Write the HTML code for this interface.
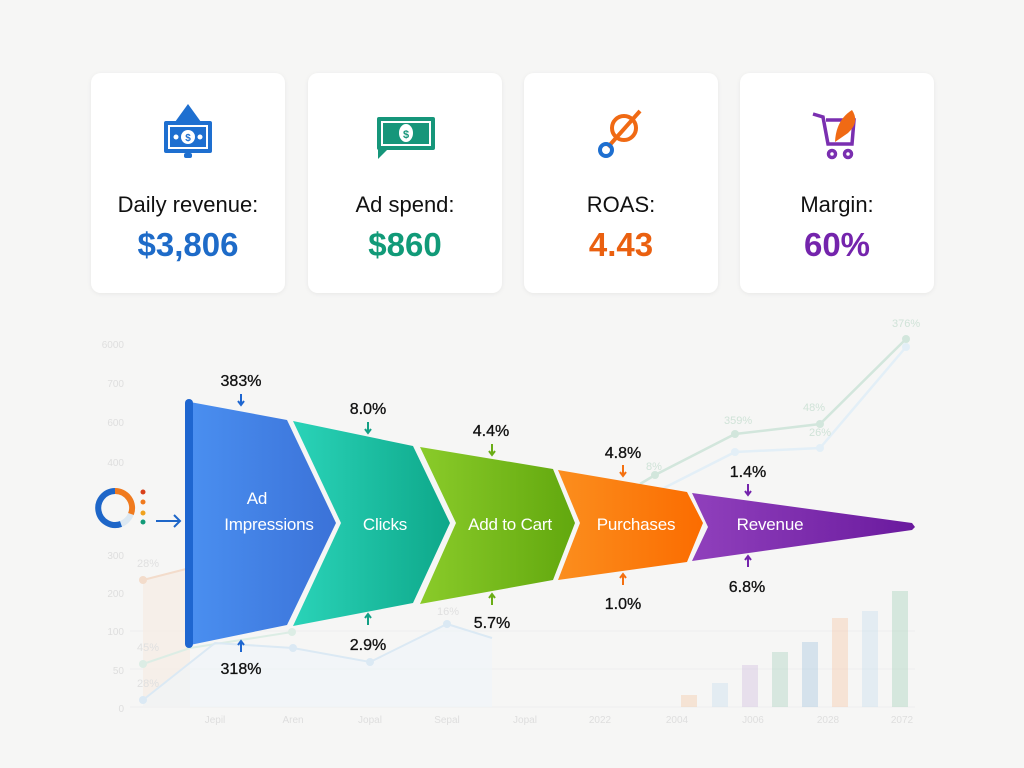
<!DOCTYPE html>
<html><head><meta charset="utf-8"><style>
html,body{margin:0;padding:0;background:#f6f6f5;}
svg{display:block;font-family:"Liberation Sans",sans-serif;}
</style></head><body>
<svg width="1024" height="768" viewBox="0 0 1024 768">
<defs>
<linearGradient id="gb" x1="0" x2="1"><stop offset="0" stop-color="#4a8ff0"/><stop offset="1" stop-color="#3b72d8"/></linearGradient>
<linearGradient id="gt" x1="0" x2="1"><stop offset="0" stop-color="#2ad3b8"/><stop offset="1" stop-color="#0ea88a"/></linearGradient>
<linearGradient id="gg" x1="0" x2="1"><stop offset="0" stop-color="#8acb2a"/><stop offset="1" stop-color="#62a80e"/></linearGradient>
<linearGradient id="go" x1="0" x2="1"><stop offset="0" stop-color="#fb8e1e"/><stop offset="1" stop-color="#fb6c00"/></linearGradient>
<linearGradient id="gp" x1="0" x2="1"><stop offset="0" stop-color="#9040bc"/><stop offset="1" stop-color="#6a1a9e"/></linearGradient>
<filter id="sh" x="-10%" y="-10%" width="120%" height="120%"><feDropShadow dx="0" dy="1" stdDeviation="2" flood-opacity="0.06"/></filter>
</defs>
<rect width="1024" height="768" fill="#f6f6f5"/>
<g font-size="10" fill="#dedede" text-anchor="end">
<text x="124" y="348">6000</text><text x="124" y="387">700</text><text x="124" y="426">600</text><text x="124" y="466">400</text>
<text x="124" y="559">300</text><text x="124" y="597">200</text><text x="124" y="635">100</text><text x="124" y="674">50</text><text x="124" y="712">0</text>
</g>
<g font-size="10" fill="#dedede" text-anchor="middle">
<text x="215" y="723">Jepil</text><text x="293" y="723">Aren</text><text x="370" y="723">Jopal</text><text x="447" y="723">Sepal</text><text x="525" y="723">Jopal</text>
<text x="600" y="723">2022</text><text x="677" y="723">2004</text><text x="753" y="723">J006</text><text x="828" y="723">2028</text><text x="902" y="723">2072</text>
</g>
<g stroke="#eeeeee" stroke-width="1"><line x1="130" y1="707" x2="915" y2="707"/><line x1="130" y1="669" x2="915" y2="669"/><line x1="130" y1="631" x2="915" y2="631"/></g>
<g opacity="0.4">
<rect x="681" y="695" width="16" height="12" fill="#f4c9a4"/>
<rect x="712" y="683" width="16" height="24" fill="#c9def0"/>
<rect x="742" y="665" width="16" height="42" fill="#d2bfe0"/>
<rect x="772" y="652" width="16" height="55" fill="#a9d3bf"/>
<rect x="802" y="642" width="16" height="65" fill="#a4c5e0"/>
<rect x="832" y="618" width="16" height="89" fill="#f6c8a6"/>
<rect x="862" y="611" width="16" height="96" fill="#c8def0"/>
<rect x="892" y="591" width="16" height="116" fill="#a6d3b8"/>
</g>
<polygon points="143,580 190,568 190,707 143,707" fill="#f7ede4" opacity="0.7"/>
<polyline points="143,580 190,568" stroke="#f3dccb" stroke-width="2" fill="none"/>
<circle cx="143" cy="580" r="4" fill="#f3dccb"/>
<polyline points="143,664 190,648 292,632" stroke="#dcede5" stroke-width="2" fill="none"/>
<circle cx="143" cy="664" r="4" fill="#dcede5"/><circle cx="292" cy="632" r="4" fill="#dcede5"/>
<polygon points="143,700 215,643 293,648 370,662 447,624 492,638 492,707 143,707" fill="#f0f5fa" opacity="0.6"/>
<polyline points="143,700 215,643 293,648 370,662 447,624 492,638" stroke="#dbe9f4" stroke-width="2" fill="none"/>
<g fill="#dbe9f4"><circle cx="143" cy="700" r="4"/><circle cx="293" cy="648" r="4"/><circle cx="370" cy="662" r="4"/><circle cx="447" cy="624" r="4"/></g>
<g font-size="11" fill="#e0e0e0"><text x="137" y="567">28%</text><text x="137" y="651">45%</text><text x="137" y="687">28%</text><text x="437" y="615">16%</text></g>
<polyline points="640,484 655,475 735,434 820,424 906,339" stroke="#d2e6dc" stroke-width="2.5" fill="none"/>
<polyline points="660,490 735,452 820,448 906,347" stroke="#e3eff7" stroke-width="2.5" fill="none"/>
<g fill="#d2e6dc"><circle cx="655" cy="475" r="4"/><circle cx="735" cy="434" r="4"/><circle cx="820" cy="424" r="4"/><circle cx="906" cy="339" r="4"/></g>
<g fill="#e3eff7"><circle cx="735" cy="452" r="4"/><circle cx="820" cy="448" r="4"/><circle cx="906" cy="347" r="4"/></g>
<g font-size="11" fill="#d0e3d8"><text x="892" y="327">376%</text><text x="724" y="424">359%</text><text x="803" y="411">48%</text><text x="809" y="436">26%</text><text x="646" y="470">8%</text></g>
<g filter="url(#sh)" fill="#fff">
<rect x="91" y="73" width="194" height="220" rx="10"/><rect x="308" y="73" width="194" height="220" rx="10"/>
<rect x="524" y="73" width="194" height="220" rx="10"/><rect x="740" y="73" width="194" height="220" rx="10"/>
</g>
<g>
<polygon points="175,122 188,104 201,122" fill="#1e6fd0"/>
<rect x="164" y="121" width="48" height="32" rx="2" fill="#1e6fd0"/>
<rect x="168" y="125" width="40" height="24" fill="#fff"/>
<rect x="170" y="127" width="36" height="20" fill="#1e6fd0"/>
<circle cx="188" cy="137" r="7" fill="#fff"/><text x="188" y="141" font-size="10" font-weight="bold" fill="#1e6fd0" text-anchor="middle">$</text>
<circle cx="176" cy="137" r="2.5" fill="#fff"/><circle cx="200" cy="137" r="2.5" fill="#fff"/>
<rect x="184" y="153" width="8" height="5" rx="2" fill="#1e6fd0"/>
</g>
<g>
<rect x="377" y="117" width="58" height="33" rx="2" fill="#16967a"/>
<rect x="381" y="121" width="50" height="25" fill="#fff"/>
<rect x="383" y="123" width="46" height="21" fill="#16967a"/>
<ellipse cx="406" cy="133" rx="7" ry="9" fill="#fff"/><text x="406" y="138" font-size="11" font-weight="bold" fill="#16967a" text-anchor="middle">$</text>
<polygon points="378,149 378,159 388,149" fill="#16967a"/>
</g>
<g fill="none" stroke-width="4">
<circle cx="624" cy="128" r="12" stroke="#f06a14"/>
<line x1="608" y1="147" x2="640" y2="111" stroke="#f06a14"/>
<circle cx="606" cy="150" r="6" stroke="#1e6fd0"/>
</g>
<g fill="none" stroke="#7a2fb0" stroke-width="3.5">
<polyline points="813,114 823,117 828,144 852,144 854,120 826,120"/>
<circle cx="832" cy="154" r="3.5"/><circle cx="848" cy="154" r="3.5"/>
</g>
<path d="M835,142 Q836,120 852,110 Q860,122 848,133 Z" fill="#f06a14"/>
<g font-size="22" fill="#111" text-anchor="middle">
<text x="188" y="212">Daily revenue:</text><text x="405" y="212">Ad spend:</text><text x="621" y="212">ROAS:</text><text x="837" y="212">Margin:</text>
</g>
<g font-size="33" font-weight="bold" text-anchor="middle">
<text x="188" y="256" fill="#1e6bc8">$3,806</text><text x="405" y="256" fill="#119a78">$860</text><text x="621" y="256" fill="#ea6010">4.43</text><text x="837" y="256" fill="#7424ac">60%</text>
</g>
<polygon points="190,402 287,420 336,523 287,625 190,645" fill="url(#gb)"/>
<rect x="185" y="399" width="8" height="249" rx="4" fill="#1e66d0"/>
<polygon points="293,421 413,446 450,523 413,603 293,626 341,523" fill="url(#gt)"/>
<polygon points="420,447 553,469 575,523 553,580 420,604 456,523" fill="url(#gg)"/>
<polygon points="558,470 687,492 703,523 687,562 558,580 580,523" fill="url(#go)"/>
<polygon points="692,493 912,523 915,527 912,530 692,561 708,527" fill="url(#gp)"/>
<g fill="#fff" font-size="17" text-anchor="middle" style="letter-spacing:-0.2px">
<text x="257" y="504">Ad</text><text x="269" y="530">Impressions</text>
<text x="385" y="530">Clicks</text><text x="510" y="530">Add to Cart</text>
<text x="636" y="530">Purchases</text><text x="770" y="530">Revenue</text>
</g>
<g font-size="16" fill="#111" text-anchor="middle" stroke="#111" stroke-width="0.3">
<text x="241" y="386">383%</text><text x="368" y="414">8.0%</text><text x="491" y="436">4.4%</text><text x="623" y="458">4.8%</text><text x="748" y="477">1.4%</text>
<text x="241" y="674">318%</text><text x="368" y="650">2.9%</text><text x="492" y="628">5.7%</text><text x="623" y="609">1.0%</text><text x="747" y="592">6.8%</text>
</g>
<g stroke-width="2" fill="none">
<path d="M241,394v11m-3,-4l3,4l3,-4" stroke="#1e66d0"/>
<path d="M368,422v11m-3,-4l3,4l3,-4" stroke="#13a085"/>
<path d="M492,444v11m-3,-4l3,4l3,-4" stroke="#6aad16"/>
<path d="M623,465v11m-3,-4l3,4l3,-4" stroke="#f47010"/>
<path d="M748,484v11m-3,-4l3,4l3,-4" stroke="#7424ac"/>
<path d="M241,652v-11m-3,4l3,-4l3,4" stroke="#1e66d0"/>
<path d="M368,625v-11m-3,4l3,-4l3,4" stroke="#13a085"/>
<path d="M492,605v-11m-3,4l3,-4l3,4" stroke="#6aad16"/>
<path d="M623,585v-11m-3,4l3,-4l3,4" stroke="#f47010"/>
<path d="M748,567v-11m-3,4l3,-4l3,4" stroke="#7424ac"/>
</g>
<g fill="none" stroke-width="6">
<circle cx="115" cy="508" r="17" stroke="#dce8f2"/>
<path d="M115,491 A17,17 0 0 1 131,514" stroke="#f07a1e"/>
<path d="M115,491 A17,17 0 1 0 121,524" stroke="#1e66c8"/>
</g>
<circle cx="143" cy="492" r="2.5" fill="#d8401a"/><circle cx="143" cy="502" r="2.5" fill="#f07a1e"/><circle cx="143" cy="513" r="2.5" fill="#f0a21e"/><circle cx="143" cy="522" r="2.5" fill="#119a78"/>
<path d="M156,521h24m-6,-6l6,6l-6,6" stroke="#1e66c8" stroke-width="2" fill="none"/>
</svg>
</body></html>
